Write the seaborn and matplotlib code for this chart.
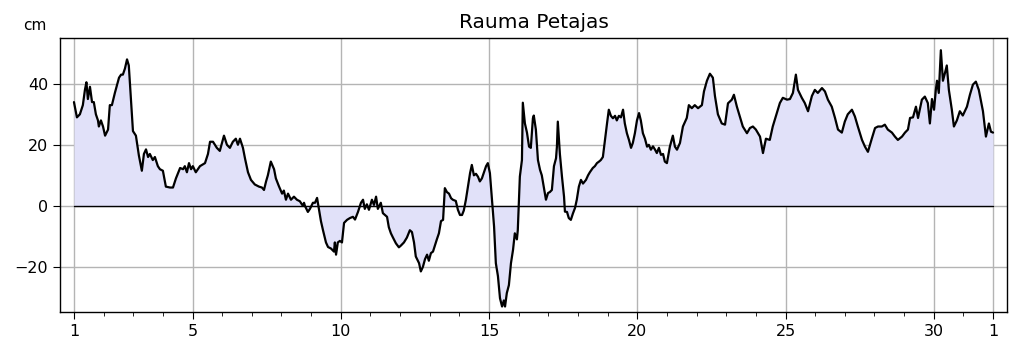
"""
Sea level at Rauma Petajas over one month (cm, relative to mean).
"""

import numpy as np
import pandas as pd
import matplotlib
matplotlib.use("Agg")
import matplotlib.pyplot as plt
from matplotlib.ticker import FixedLocator, MultipleLocator
import seaborn as sns

# day of month (32 = 1st of next month) and water level in cm
day = [
    1.00, 1.10, 1.20, 1.30, 1.37, 1.42, 1.47, 1.54, 1.61, 1.67, 1.74, 1.81, 1.84, 1.91, 1.98,
    2.05, 2.15, 2.21, 2.28, 2.38, 2.52, 2.59, 2.65, 2.72, 2.79, 2.85, 2.92, 2.99,
    3.09, 3.19, 3.29, 3.36, 3.43, 3.50, 3.56, 3.66, 3.73, 3.83, 3.90, 4.00,
    4.10, 4.24, 4.34, 4.44, 4.58, 4.68, 4.74, 4.81, 4.88, 4.95, 5.01,
    5.11, 5.25, 5.42, 5.52, 5.59, 5.69, 5.82, 5.92, 6.06, 6.16, 6.26, 6.36, 6.46, 6.53, 6.60,
    6.70, 6.77, 6.87, 6.97, 7.10, 7.24, 7.34, 7.41, 7.48, 7.54, 7.64, 7.75, 7.81, 7.91,
    8.02, 8.08, 8.15, 8.22, 8.32, 8.42, 8.52, 8.62, 8.72, 8.76, 8.79, 8.89, 8.96,
    9.06, 9.13, 9.20, 9.26, 9.33, 9.40, 9.50, 9.57, 9.67, 9.77, 9.80, 9.84, 9.90, 9.97,
    10.04, 10.11, 10.21, 10.31, 10.41, 10.48, 10.58, 10.68, 10.75, 10.81, 10.88, 10.95,
    11.05, 11.12, 11.19, 11.25, 11.35, 11.42, 11.49, 11.56, 11.62, 11.69, 11.76, 11.86, 11.96,
    12.03, 12.13, 12.23, 12.33, 12.40, 12.47, 12.53, 12.64, 12.70, 12.77, 12.84, 12.91, 12.97,
    13.04, 13.11, 13.18, 13.24, 13.31, 13.38, 13.45, 13.51, 13.58, 13.65, 13.72, 13.78, 13.88, 13.95,
    14.02, 14.09, 14.15, 14.22, 14.29, 14.36, 14.42, 14.49, 14.56, 14.63, 14.69, 14.76, 14.83, 14.90, 14.96,
    15.03, 15.10, 15.17, 15.23, 15.30, 15.37, 15.44, 15.50, 15.54, 15.60, 15.67, 15.74, 15.81, 15.87, 15.94, 15.97,
    16.04, 16.11, 16.14, 16.21, 16.28, 16.35, 16.41, 16.48, 16.51, 16.58, 16.65, 16.72, 16.78, 16.85, 16.92, 16.99,
    17.05, 17.12, 17.19, 17.26, 17.29, 17.32, 17.39, 17.46, 17.53, 17.56, 17.63, 17.69, 17.76, 17.83, 17.90, 17.96,
    18.03, 18.10, 18.17, 18.27, 18.34, 18.40, 18.50, 18.57, 18.64, 18.71, 18.77, 18.84, 18.91, 18.98,
    19.04, 19.11, 19.18, 19.25, 19.31, 19.38, 19.45, 19.52, 19.58, 19.65, 19.72, 19.79, 19.85, 19.92, 19.99,
    20.06, 20.12, 20.19, 20.26, 20.33, 20.39, 20.46, 20.53, 20.60, 20.66, 20.73, 20.80, 20.87, 20.93,
    21.00, 21.10, 21.20, 21.27, 21.34, 21.44, 21.54, 21.67, 21.74, 21.84, 21.94,
    22.05, 22.18, 22.25, 22.35, 22.45, 22.55, 22.62, 22.72, 22.85, 22.96,
    23.06, 23.19, 23.26, 23.36, 23.46, 23.56, 23.70, 23.80, 23.90,
    24.00, 24.14, 24.24, 24.34, 24.47, 24.57, 24.71, 24.81, 24.91,
    25.05, 25.15, 25.25, 25.35, 25.42, 25.55, 25.65, 25.76, 25.89, 25.99,
    26.09, 26.23, 26.33, 26.43, 26.56, 26.67, 26.77, 26.90,
    27.00, 27.10, 27.24, 27.34, 27.44, 27.58, 27.68, 27.78, 27.91,
    28.02, 28.12, 28.25, 28.35, 28.45, 28.59, 28.69, 28.79, 28.93,
    29.03, 29.13, 29.20, 29.30, 29.40, 29.47, 29.60, 29.70, 29.80, 29.87, 29.94,
    30.01, 30.07, 30.11, 30.17, 30.24, 30.31, 30.38, 30.44, 30.51, 30.61, 30.68, 30.78, 30.88, 30.98,
    31.12, 31.22, 31.32, 31.42, 31.52, 31.66, 31.76, 31.86, 31.93, 32.00,
]
level_cm = [
    34, 29, 30, 33, 38, 40.5, 35, 39, 34, 34, 30, 28, 26, 28, 26,
    23, 25, 33, 33, 37, 42, 43, 43, 45, 48, 46, 35, 24.5,
    23, 16.5, 11.5, 17, 18.5, 16, 17, 15, 16, 13, 12, 11.5,
    6.3, 6, 6, 9, 12.4, 12, 13, 11, 14, 12, 13,
    11, 13, 14, 17, 21, 21, 19, 18, 23, 20, 19, 21, 22, 20, 22,
    19, 15.5, 11, 8.5, 7, 6.3, 6, 5.2, 8, 10, 14.5, 12, 9, 6.5,
    4, 5, 2, 4, 2, 3, 2, 1.5, 0, 1, 0, -2, -1,
    1, 1, 2.6, -1, -5, -8, -12, -13.5, -14, -15, -12, -16, -12, -11.5,
    -12, -5.6, -4.6, -4, -3.6, -4.5, -2, 1, 2, -1, 0.5, -1.3,
    2, 0.3, 3, -1, 1, -2.4, -3, -3.6, -7, -9, -10.4, -12.3, -13.6,
    -13, -12, -10.4, -8, -8.6, -12, -16.6, -18.8, -21.5, -20, -17.5, -16, -18,
    -15.5, -15, -12.8, -11, -9, -5, -4.6, 5.8, 4.5, 4, 2.5, 2, 1.6, -1.3,
    -3, -3, -1.5, 2, 6.3, 10.7, 13.4, 10, 10.5, 9.5, 8, 9, 11, 13, 14,
    10.7, 2, -6.8, -18.8, -23, -30.3, -33, -31, -33, -28.6, -26, -18.8, -14.4, -9, -11, -8,
    9.6, 15, 33.8, 27, 24, 19.4, 19, 28.7, 29.6, 25, 15, 11.8, 10, 5.9, 2, 4.2,
    4.5, 5.2, 13, 15.6, 19.4, 27.6, 17, 9.6, 3, -1.9, -2, -4, -4.6, -2.5, -0.7, 2,
    6.3, 8.5, 7.3, 8.5, 10, 11, 12.4, 13, 14, 14.5, 15, 16, 21.6, 27,
    31.5, 29.5, 28.7, 29.5, 28, 29.5, 29, 31.5, 27, 23.8, 21.6, 19, 20.6, 23.8, 28,
    30.4, 28, 23.8, 22, 19.4, 20, 18.4, 19.5, 18.4, 17.3, 19, 16.7, 17, 14.5,
    14, 19.4, 23, 19.4, 18.4, 20.6, 26, 28.8, 33, 32, 33,
    32, 33, 37.5, 41, 43.3, 42, 36, 30, 27, 26.6,
    33.6, 34.8, 36.4, 32.5, 29.3, 26, 23.8, 25.5, 26,
    25, 22.7, 17.3, 22, 21.6, 26, 30.5, 33.7, 35.4,
    34.8, 35, 37, 43, 38, 35.4, 33.7, 31, 36, 38,
    37, 38.6, 37.5, 34.8, 32.5, 28.8, 25, 24,
    27.6, 30, 31.5, 29.3, 26, 21.6, 19.4, 17.7, 22,
    25.5, 26, 26, 26.6, 25, 24, 22.7, 21.6, 22.7,
    24, 25, 28.8, 29, 32.5, 28.8, 34.8, 35.8, 33.7, 27, 35,
    31.5, 38, 41, 37, 51, 41, 43.6, 46, 38, 31.5, 26, 28, 31, 29.6,
    32.5, 36.4, 39.7, 40.7, 38, 31, 22.7, 27, 24.3, 24,
]

tick_days = [1, 5, 10, 15, 20, 25, 30, 32]
tick_labels = ["1", "5", "10", "15", "20", "25", "30", "1"]
y_ticks = [-20, 0, 20, 40]

df = pd.DataFrame({"day": day, "level": level_cm})

sns.set_style("ticks")
plt.rcParams["font.family"] = ["DejaVu Sans"]
plt.rcParams["text.color"] = "black"
plt.rcParams["xtick.color"] = "black"
plt.rcParams["ytick.color"] = "black"

fig = plt.figure(figsize=(10.19, 3.52), dpi=100)
ax = fig.add_axes([0.0589, 0.1136, 0.9293, 0.7784])

ax.fill_between(df["day"], df["level"], 0, color="#e1e1f9", lw=0, zorder=1)
ax.plot([df["day"].iloc[0], df["day"].iloc[-1]], [0, 0], color="black", lw=1.0, zorder=2)
sns.lineplot(data=df, x="day", y="level", color="black", lw=1.6, sort=False,
             estimator=None, ax=ax, zorder=3)

ax.set_xlim(0.53, 32.47)
ax.set_ylim(-34.8, 55.0)
ax.xaxis.set_major_locator(FixedLocator(tick_days))
ax.set_xticklabels(tick_labels)
ax.xaxis.set_minor_locator(MultipleLocator(1))
ax.set_yticks(y_ticks)
ax.set_yticklabels(["\u221220", "0", "20", "40"])

ax.grid(True, which="major", color="#b4b4b4", lw=1.0, zorder=0)
ax.tick_params(axis="both", which="major", labelsize=11.5, length=5, width=0.8,
               direction="out", color="black", labelcolor="black")
ax.tick_params(axis="x", which="minor", length=3, width=0.6, color="black")
for s in ax.spines.values():
    s.set_color("black")
    s.set_linewidth(1.0)

ax.set_xlabel("")
ax.set_ylabel("")
ax.set_title("Rauma Petajas", fontsize=14.5, pad=7, color="black")
fig.text(0.0345, 0.928, "cm", fontsize=11, ha="center", va="center", color="black")

fig.savefig("out.png", dpi=100)
plt.close(fig)
